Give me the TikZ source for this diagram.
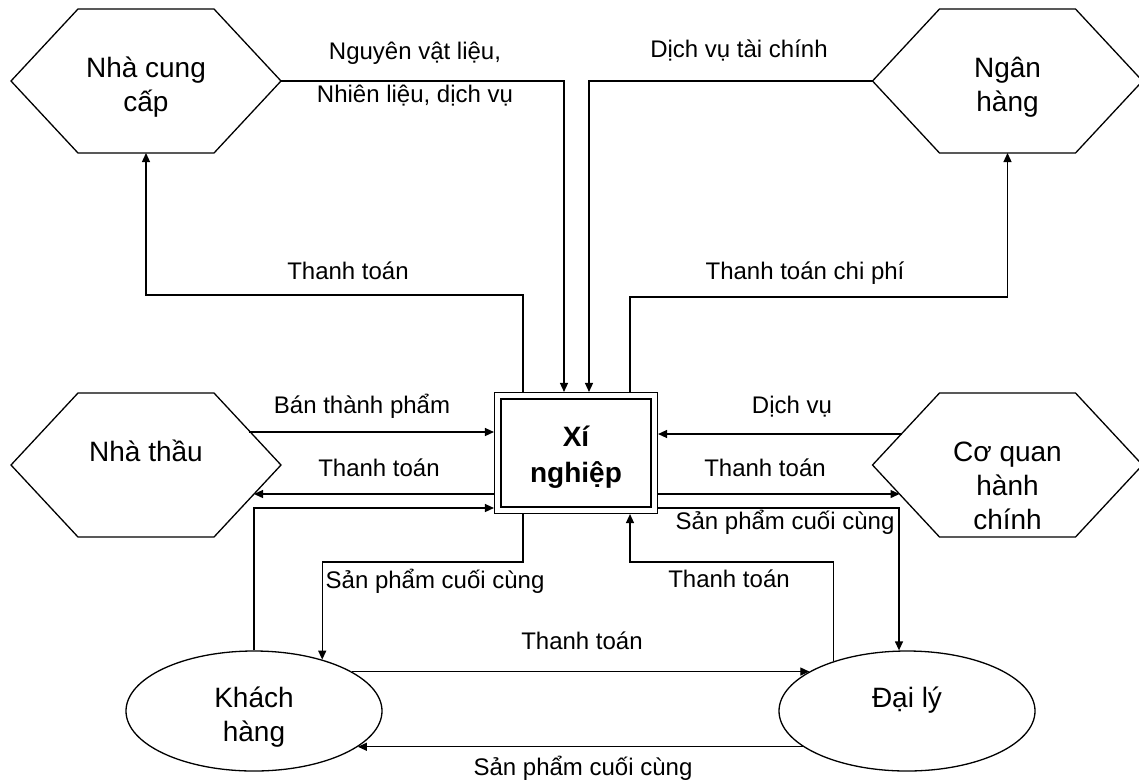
\documentclass[tikz,border=0pt]{standalone}
\usepackage{fontspec}
\setmainfont{Liberation Sans}
\usetikzlibrary{arrows.meta,calc,shapes.geometric}
\newcommand{\mlines}[1]{\begin{tabular}[t]{@{}c@{}}#1\end{tabular}}

\tikzset{
  hexa/.style={inner sep=0pt,outer sep=0pt,minimum width=270pt,minimum height=144pt,
    font=\fontsize{28}{34}\selectfont,text height=-7pt,text depth=7pt},
  oval/.style={draw,ellipse,inner sep=0pt,minimum width=256pt,minimum height=120pt,
    font=\fontsize{28}{34}\selectfont,text height=-7pt,text depth=7pt},
  mainbox/.style={draw,double,double distance=5pt,inner sep=0pt,outer sep=3.8pt,
    minimum width=156.5pt,minimum height=114.5pt,font=\fontsize{28}{36}\selectfont\bfseries,
    text height=-13pt,text depth=13pt},
  lbl/.style={font=\fontsize{24}{29}\selectfont,anchor=base,inner sep=0pt},
  arr/.style={-{Triangle[length=9pt,width=8pt]}},
}

\begin{document}
\begin{tikzpicture}[x=1pt,y=-1pt,line width=1.3pt]
\useasboundingbox (0,0) rectangle (1139,780);
% partners round the enterprise
\node[hexa] (ncc) at (146,81) {\mlines{Nhà cung\\cấp}};
\node[hexa] (nh) at (1007.5,81) {\mlines{Ngân\\hàng}};
\node[hexa] (nt) at (146,465) {\mlines{Nhà thầu}};
\node[hexa] (cq) at (1007.5,465) {\mlines{Cơ quan\\hành\\chính}};
\node[mainbox] (xn) at (576,453) {\mlines{Xí\\nghiệp}};
\node[oval] (kh) at (254,711) {\mlines{Khách\\hàng}};
\node[oval] (dl) at (907,711) {\mlines{Đại lý}};
\foreach \h in {ncc,nh,nt,cq}
  \draw ($(\h.north west)+(67,0)$) -- ($(\h.north east)+(-67,0)$) -- (\h.east)
    -- ($(\h.south east)+(-67,0)$) -- ($(\h.south west)+(67,0)$) -- (\h.west) -- cycle;
% supplier and bank
\draw[arr] (ncc.east) -| ($(xn.north)+(-12,0)$);
\draw[arr] (nh.west) -| ($(xn.north)+(13,0)$);
\draw[arr] ($(xn.north)+(-53,0)$) -- ++(0,-97) -| (ncc.south);
\draw[arr] ($(xn.north)+(54,0)$) -- ++(0,-95) -| (nh.south);
\node[lbl] (l1) at (415,59) {Nguyên vật liệu,};
\node[lbl] (l2) at (415,102) {Nhiên liệu, dịch vụ};
\node[lbl] (l3) at (739,57) {Dịch vụ tài chính};
\node[lbl] (l4) at (348,279) {Thanh toán};
\node[lbl] (l5) at (805,279) {Thanh toán chi phí};
% contractor and administration
\draw[arr] ($(nt.east)+(-32,-33)$) coordinate (nt1) -- (nt1 -| xn.west);
\draw[arr] ($(xn.west)+(0,41)$) -- ($(nt.east)+(-27,29)$);
\draw[arr] ($(cq.west)+(29,-31)$) coordinate (cq1) -- (cq1 -| xn.east);
\draw[arr] ($(xn.east)+(0,41)$) -- ($(cq.west)+(27,29)$);
\node[lbl] (l6) at (362,413) {Bán thành phẩm};
\node[lbl] (l7) at (379,476) {Thanh toán};
\node[lbl] (l8) at (792,413) {Dịch vụ};
\node[lbl] (l9) at (765,476) {Thanh toán};
% customers and agents
\draw[arr] (kh.north) |- ($(xn.west)+(0,55)$);
\draw[arr] ($(xn.south)+(-53,0)$) -- ++(0,48) -| (kh.37);
\draw[arr] ($(xn.east)+(0,55)$) -| ($(dl.north)+(-8,0)$);
\draw[arr] (dl.146) |- ($(xn.south)+(54,48)$) -- ($(xn.south)+(54,0)$);
\draw[arr] (kh.22) -- (dl.158);
\draw[arr] (dl.199) -- (kh.-19);
\node[lbl,anchor=base west] (l10) at (325,588) {Sản phẩm cuối cùng};
\node[lbl] (l11) at (785,529) {Sản phẩm cuối cùng};
\node[lbl] (l12) at (729,587) {Thanh toán};
\node[lbl] (l13) at (582,649) {Thanh toán};
\node[lbl] (l14) at (583,775) {Sản phẩm cuối cùng};
\end{tikzpicture}
\end{document}
